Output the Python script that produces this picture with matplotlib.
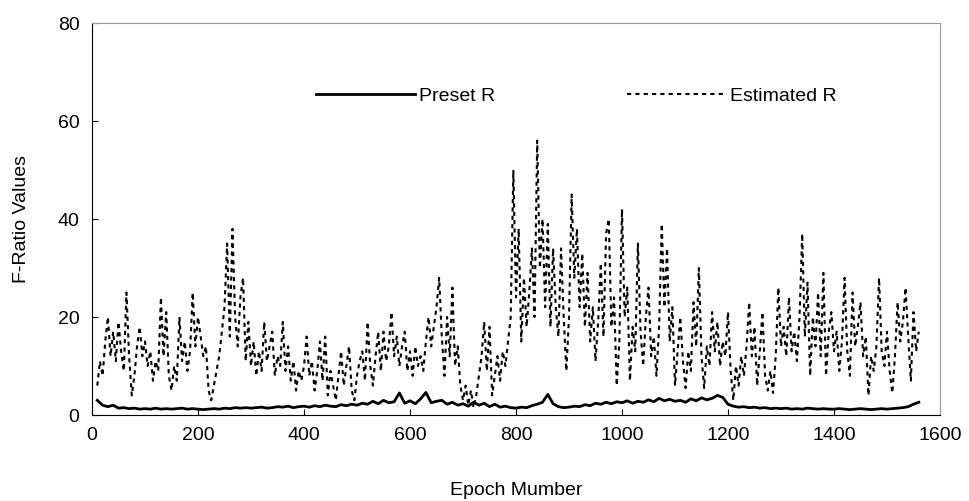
import matplotlib.pyplot as plt
import numpy as np

# F-Ratio 随 epoch 变化 (读图估计值)
plt.rcParams['font.family'] = ['Liberation Sans', 'DejaVu Sans']

# Estimated R, every 5 epochs, 10..1560
est_0 = [6, 11, 8, 15, 20, 12, 17, 11, 19, 13, 9, 25, 12, 4, 8, 14, 18, 12]
est_100 = [15, 10, 13, 7, 11, 9, 24, 12, 21, 8, 5, 10, 7, 20, 11, 15, 9, 13, 25, 14]
est_200 = [20, 16, 12, 14, 5, 3, 6, 9, 12, 17, 22, 35, 16, 38, 20, 14, 24, 28, 11, 19]
est_300 = [10, 15, 8, 13, 9, 19, 11, 14, 17, 8, 12, 10, 19, 9, 14, 7, 11, 5, 9, 7]
est_400 = [10, 16, 8, 11, 5, 9, 15, 7, 16, 4, 9, 6, 3, 8, 13, 6, 10, 14, 5, 3]
est_500 = [8, 11, 13, 7, 19, 10, 6, 12, 17, 9, 17, 11, 14, 21, 12, 16, 10, 14, 17, 9]
est_600 = [13, 8, 14, 10, 12, 9, 15, 20, 14, 18, 22, 28, 16, 8, 20, 12, 26, 10, 14, 6]
est_700 = [3, 6, 2, 5, 1.5, 4, 8, 12, 19, 9, 18, 4, 8, 12, 7, 13, 10, 15, 20, 50]
est_800 = [24, 38, 15, 28, 18, 25, 34, 20, 56, 30, 40, 22, 39, 18, 34, 22, 16, 34, 20, 9]
est_900 = [20, 45, 28, 38, 22, 33, 18, 29, 15, 22, 11, 19, 31, 16, 37, 40, 18, 24, 6, 15]
est_1000 = [42, 20, 26, 7, 18, 13, 35, 17, 10, 20, 26, 12, 16, 8, 18, 39, 22, 34, 15, 22]
est_1100 = [6, 13, 20, 11, 5.5, 13, 9, 23, 14, 30, 12, 5.5, 14, 10, 21, 13, 19, 10, 15, 12]
est_1200 = [21, 9, 3, 10, 6, 12, 8, 14, 23, 12, 18, 6, 13, 21, 8, 5, 9, 4.5, 12, 26]
est_1300 = [14, 18, 12, 24, 13, 17, 11, 20, 37, 16, 27, 8, 20, 14, 25, 12, 29, 8, 17, 21]
est_1400 = [13, 17, 9, 15, 28, 13, 8, 25, 14, 18, 23, 12, 16, 4, 12, 9, 14, 28, 13, 10]
est_1500 = [17, 9, 4.5, 12, 23, 15, 19, 26, 16, 7, 21, 13, 17]

# Preset R, every 10 epochs, 10..1560
pre_0 = [3.0, 2.0, 1.7, 2.0, 1.4, 1.5, 1.3, 1.4, 1.2]
pre_100 = [1.3, 1.2, 1.4, 1.2, 1.3, 1.2, 1.3, 1.4, 1.2, 1.3]
pre_200 = [1.2, 1.1, 1.2, 1.3, 1.2, 1.4, 1.3, 1.5, 1.4, 1.5]
pre_300 = [1.4, 1.5, 1.6, 1.4, 1.5, 1.7, 1.6, 1.8, 1.5, 1.7]
pre_400 = [1.8, 1.6, 1.9, 1.7, 2.0, 1.8, 1.7, 2.1, 1.9, 2.2]
pre_500 = [2.0, 2.4, 2.2, 2.8, 2.3, 3.0, 2.5, 2.7, 4.5, 2.4]
pre_600 = [2.9, 2.3, 3.3, 4.6, 2.5, 2.8, 3.0, 2.2, 2.6, 2.0]
pre_700 = [2.3, 1.8, 2.6, 2.0, 2.4, 1.7, 2.2, 1.6, 1.8, 1.5]
pre_800 = [1.4, 1.6, 1.5, 1.9, 2.2, 2.6, 4.2, 2.3, 1.7, 1.5]
pre_900 = [1.6, 1.8, 1.7, 2.1, 1.9, 2.4, 2.2, 2.6, 2.3, 2.7]
pre_1000 = [2.5, 2.9, 2.4, 2.8, 2.6, 3.1, 2.7, 3.4, 2.9, 3.2]
pre_1100 = [2.8, 3.0, 2.6, 3.3, 2.9, 3.5, 3.1, 3.4, 4.0, 3.6]
pre_1200 = [2.2, 1.8, 1.6, 1.7, 1.5, 1.6, 1.4, 1.5, 1.3, 1.4]
pre_1300 = [1.3, 1.4, 1.2, 1.3, 1.2, 1.4, 1.3, 1.2, 1.3, 1.2]
pre_1400 = [1.2, 1.3, 1.2, 1.1, 1.2, 1.3, 1.2, 1.1, 1.2, 1.3]
pre_1500 = [1.2, 1.3, 1.4, 1.5, 1.7, 2.2, 2.6]

Y_est = np.array(est_0 + est_100 + est_200 + est_300 + est_400 + est_500 + est_600 + est_700
                 + est_800 + est_900 + est_1000 + est_1100 + est_1200 + est_1300 + est_1400 + est_1500)
Y_pre = np.array(pre_0 + pre_100 + pre_200 + pre_300 + pre_400 + pre_500 + pre_600 + pre_700
                 + pre_800 + pre_900 + pre_1000 + pre_1100 + pre_1200 + pre_1300 + pre_1400 + pre_1500)
X_est = np.arange(10, 10 + 5 * len(Y_est), 5)
X_pre = np.arange(10, 10 + 10 * len(Y_pre), 10)

fig = plt.figure(figsize=(9.7, 5.01), dpi=100)
axe = fig.add_axes([92 / 970, 86 / 501, 848 / 970, 392 / 501])

axe.plot(X_pre, Y_pre, color='black', linewidth=2.0, label='Preset R')
axe.plot(X_est, Y_est, color='black', linewidth=1.5, linestyle=(0, (2, 2)), label='Estimated R')

axe.set_xlim(0, 1600)
axe.set_ylim(0, 80)
axe.set_xticks(np.arange(0, 1601, 200))
axe.set_yticks(np.arange(0, 81, 20))
axe.tick_params(direction='in', length=4, labelsize=14, pad=9)
axe.set_xlabel('Epoch Mumber', fontsize=14, labelpad=27)
axe.set_ylabel('F-Ratio Values', fontsize=14, labelpad=20)

for s in ['top', 'right']:
    axe.spines[s].set_color('#999999')
    axe.spines[s].set_linewidth(0.8)

fig.legend(loc='center', bbox_to_anchor=(0.594, 0.808), ncol=2, frameon=False, fontsize=14,
           handlelength=5.1, handletextpad=0.2, columnspacing=6.8)

plt.savefig('out.png', dpi=100)
